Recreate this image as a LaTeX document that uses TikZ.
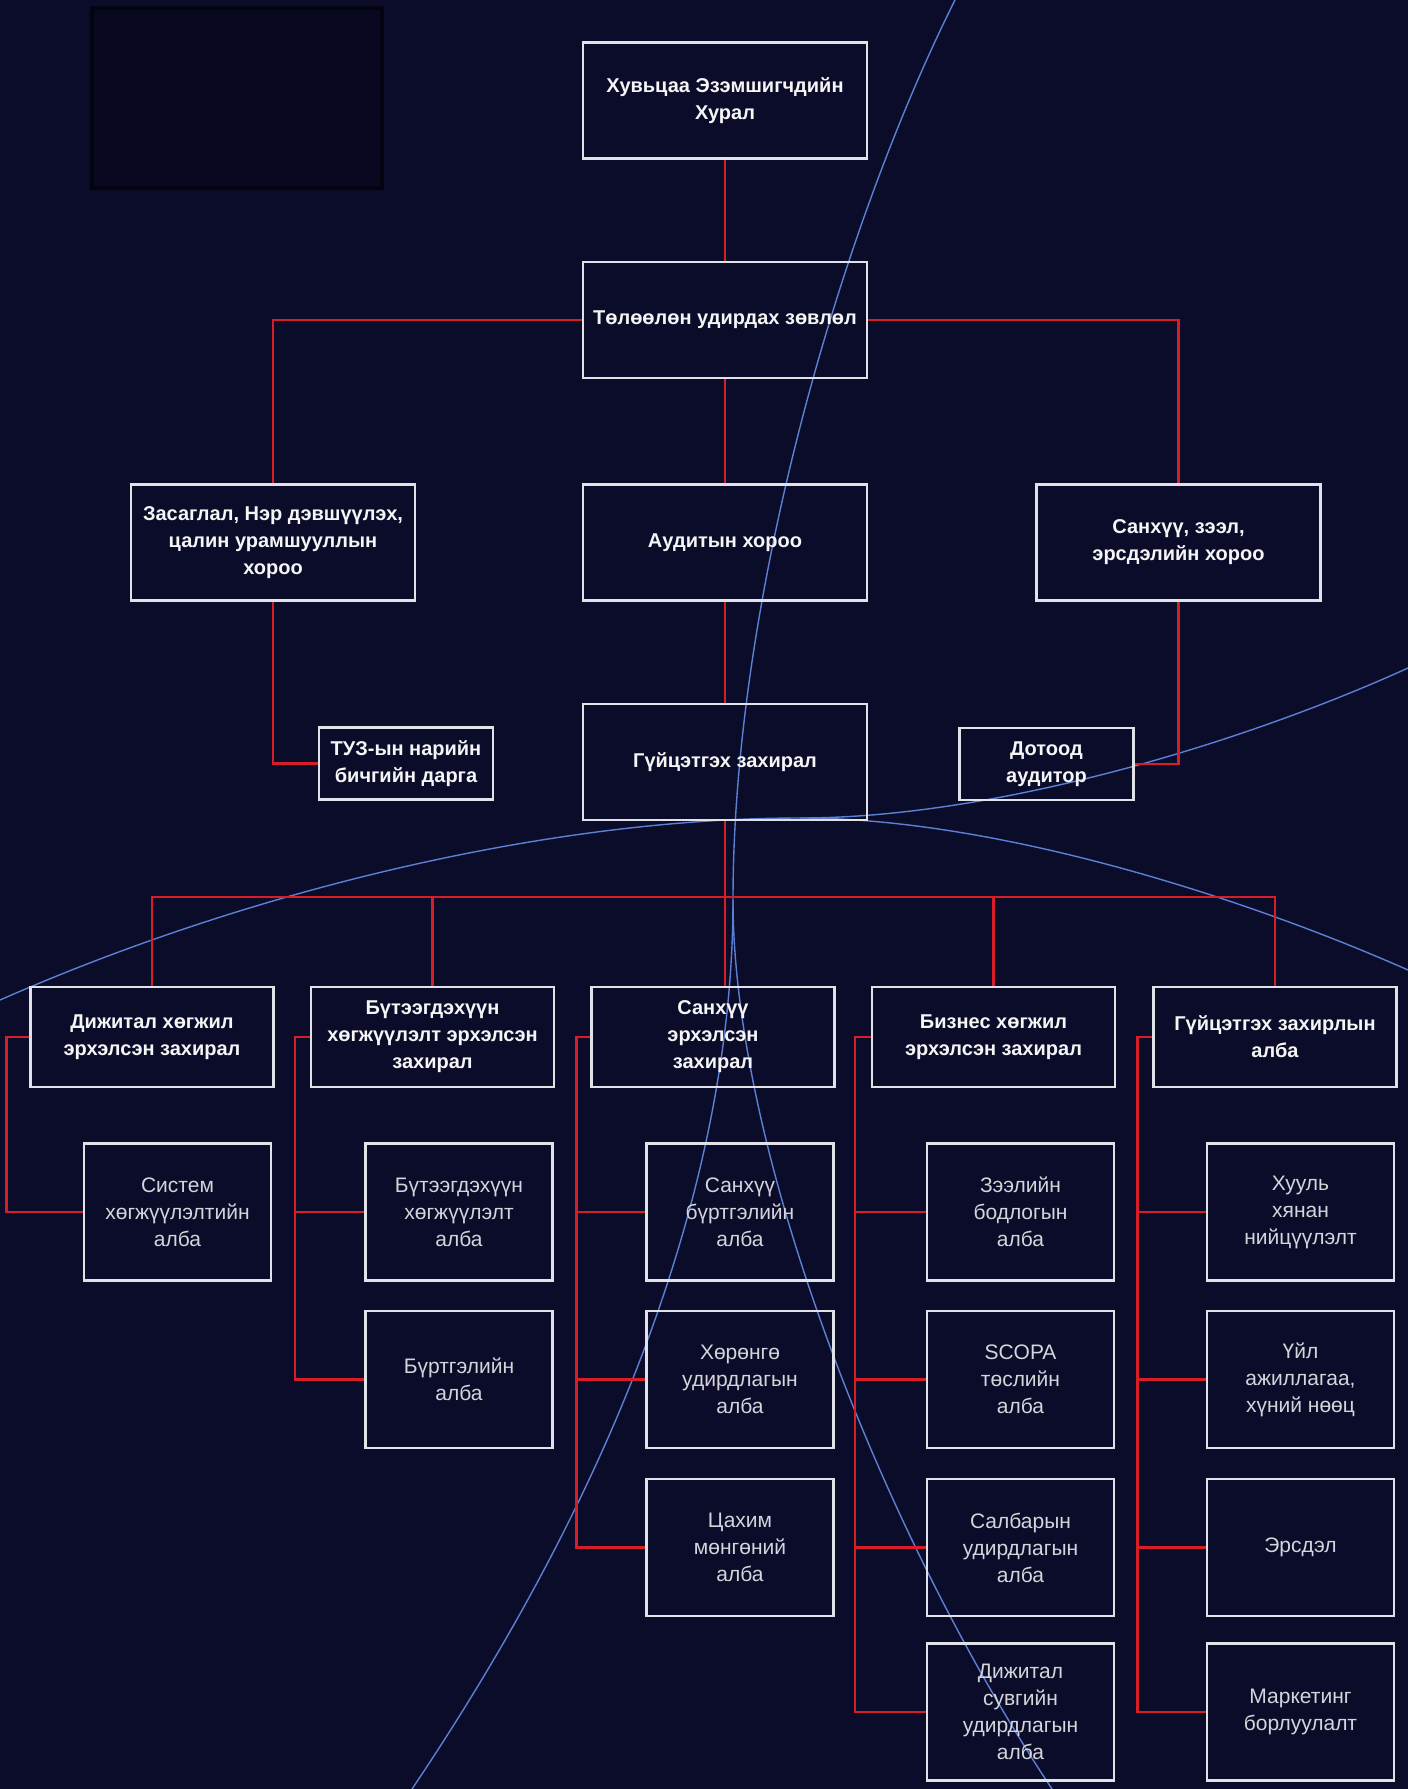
\documentclass[tikz,border=0pt]{standalone}
\usepackage{fontspec}
\setmainfont{Liberation Sans}
\definecolor{bg}{RGB}{11,12,42}
\definecolor{boxc}{RGB}{225,225,232}
\definecolor{redc}{RGB}{215,30,40}
\definecolor{bluec}{RGB}{92,128,212}
\definecolor{txt}{RGB}{245,245,245}
\definecolor{txtb}{RGB}{212,212,218}
\definecolor{darkrect}{RGB}{8,9,32}
\definecolor{darkedge}{RGB}{4,4,16}
\begin{document}
\begin{tikzpicture}[x=0.5pt,y=-0.5pt,
  box/.style={draw=boxc, line width=1.1pt, align=center, inner sep=1pt, text=txt,
    font=\fontsize{10}{13.5}\selectfont\bfseries},
  bigbox/.style={box, minimum width=142pt, minimum height=58pt},
  smallbox/.style={box, minimum width=87pt, minimum height=36pt},
  dirbox/.style={box, minimum width=121.5pt, minimum height=50pt},
  subbox/.style={box, minimum width=93.5pt, minimum height=68.5pt, text=txtb,
    font=\fontsize{10.5}{13.5}\selectfont},
  link/.style={draw=redc, line width=1.1pt},
  deco/.style={draw=bluec, line width=0.7pt}]
\useasboundingbox (0,0) rectangle (1408,1789);
\fill[bg] (0,0) rectangle (1408,1789);
% dark patch top-left
\draw[draw=darkedge, line width=1.8pt, fill=darkrect] (92,8) rectangle (382,188);
% decorative blue curves
\draw[deco] (955,0) .. controls (840,230) and (733,600) .. (733,900)
  .. controls (733,1150) and (880,1530) .. (1052,1789);
\draw[deco] (733,900) .. controls (733,1150) and (640,1450) .. (412,1789);
\draw[deco] (0,1000) .. controls (250,890) and (550,818) .. (800,818)
  .. controls (1000,818) and (1250,900) .. (1408,970);
\draw[deco] (800,818) .. controls (1000,818) and (1250,740) .. (1408,668);
% upper nodes
\node[bigbox] (top) at (725,100.5) {Хувьцаа Эзэмшигчдийн\\Хурал};
\node[bigbox] (board) at (725,320) {Төлөөлөн удирдах зөвлөл};
\node[bigbox] (gov) at (273,542.5) {Засаглал, Нэр дэвшүүлэх,\\цалин урамшууллын\\хороо};
\node[bigbox] (audit) at (725,542.5) {Аудитын хороо};
\node[bigbox] (fin) at (1178.5,542.5) {Санхүү, зээл,\\эрсдэлийн хороо};
\node[smallbox] (sec) at (406,763.5) {ТУЗ-ын нарийн\\бичгийн дарга};
\node[bigbox] (ceo) at (725,762) {Гүйцэтгэх захирал};
\node[smallbox] (ia) at (1046.5,764) {Дотоод\\аудитор};
% directors
\node[dirbox] (d1) at (152,1037) {Дижитал хөгжил\\эрхэлсэн захирал};
\node[dirbox] (d2) at (432.5,1037) {Бүтээгдэхүүн\\хөгжүүлэлт эрхэлсэн\\захирал};
\node[dirbox] (d3) at (713,1037) {Санхүү\\эрхэлсэн\\захирал};
\node[dirbox] (d4) at (993.5,1037) {Бизнес хөгжил\\эрхэлсэн захирал};
\node[dirbox] (d5) at (1275,1037) {Гүйцэтгэх захирлын\\алба};
% departments
\node[subbox] (s1a) at (177.5,1212) {Систем\\хөгжүүлэлтийн\\алба};
\node[subbox] (s2a) at (459,1212) {Бүтээгдэхүүн\\хөгжүүлэлт\\алба};
\node[subbox] (s2b) at (459,1379.5) {Бүртгэлийн\\алба};
\node[subbox] (s3a) at (740,1212) {Санхүү\\бүртгэлийн\\алба};
\node[subbox] (s3b) at (740,1379.5) {Хөрөнгө\\удирдлагын\\алба};
\node[subbox] (s3c) at (740,1547.5) {Цахим\\мөнгөний\\алба};
\node[subbox] (s4a) at (1020.5,1212) {Зээлийн\\бодлогын\\алба};
\node[subbox] (s4b) at (1020.5,1379.5) {SCOPA\\төслийн\\алба};
\node[subbox] (s4c) at (1020.5,1547.5) {Салбарын\\удирдлагын\\алба};
\node[subbox] (s4d) at (1020.5,1712) {Дижитал\\сувгийн\\удирдлагын\\алба};
\node[subbox] (s5a) at (1300.5,1212) {Хууль\\хянан\\нийцүүлэлт};
\node[subbox] (s5b) at (1300.5,1379.5) {Үйл\\ажиллагаа,\\хүний нөөц};
\node[subbox] (s5c) at (1300.5,1547.5) {Эрсдэл};
\node[subbox] (s5d) at (1300.5,1712) {Маркетинг\\борлуулалт};
% upper connectors
\draw[link] (top.south) -- (board.north);
\draw[link] (board.south) -- (audit.north);
\draw[link] (audit.south) -- (ceo.north);
\draw[link] (board.west) -| (gov.north);
\draw[link] (board.east) -| (fin.north);
\draw[link] (gov.south) |- (sec.west);
\draw[link] (fin.south) |- (ia.east);
% bus to directors
\coordinate (bus) at (725,897);
\draw[link] (ceo.south) -- (ceo.south |- d3.north);
\draw[link] (d1.north) |- (bus) -| (d5.north);
\draw[link] (d2.north) -- (d2.north |- bus);
\draw[link] (d4.north) -- (d4.north |- bus);
% director to departments
\draw[link] (d1.west) -- ++(-23,0) |- (s1a.west);
\draw[link] (d2.west) -- ++(-15,0) coordinate (v2) |- (s2b.west);
\draw[link] (v2 |- s2a.west) -- (s2a.west);
\draw[link] (d3.west) -- ++(-14,0) coordinate (v3) |- (s3c.west);
\draw[link] (v3 |- s3a.west) -- (s3a.west);
\draw[link] (v3 |- s3b.west) -- (s3b.west);
\draw[link] (d4.west) -- ++(-16,0) coordinate (v4) |- (s4d.west);
\draw[link] (v4 |- s4a.west) -- (s4a.west);
\draw[link] (v4 |- s4b.west) -- (s4b.west);
\draw[link] (v4 |- s4c.west) -- (s4c.west);
\draw[link] (d5.west) -- ++(-15,0) coordinate (v5) |- (s5d.west);
\draw[link] (v5 |- s5a.west) -- (s5a.west);
\draw[link] (v5 |- s5b.west) -- (s5b.west);
\draw[link] (v5 |- s5c.west) -- (s5c.west);
\end{tikzpicture}
\end{document}
